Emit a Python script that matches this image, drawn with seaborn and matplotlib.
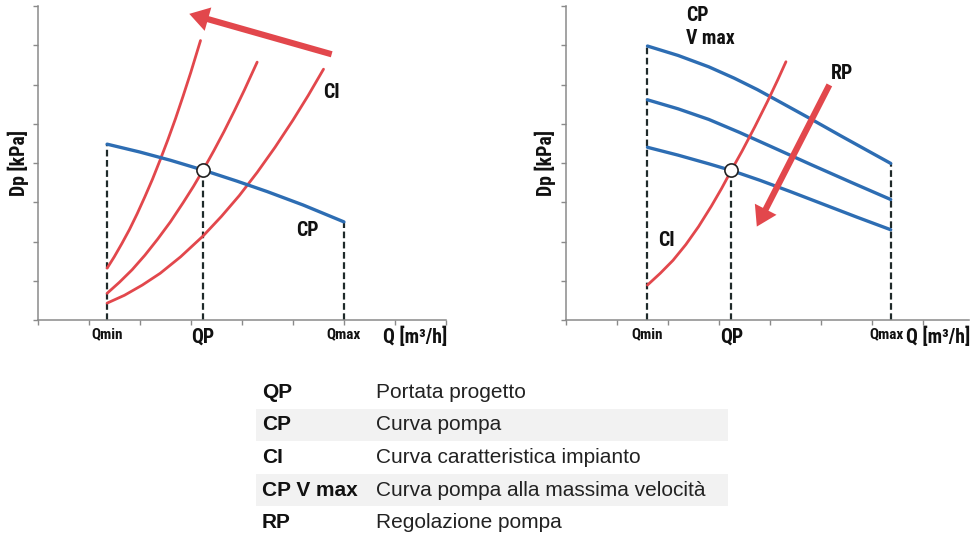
import matplotlib
matplotlib.use("Agg")
import matplotlib.pyplot as plt
import seaborn as sns
from matplotlib import font_manager
from matplotlib.patches import Rectangle

# ---------------- data (Q in flow units, Dp in pressure units) ----------------
# Left panel: one pump curve and three system curves
cp_q = [1.36, 2.00, 2.60, 3.24, 3.90, 4.50, 5.20, 6.00]
cp_dp = [4.48, 4.28, 4.07, 3.82, 3.54, 3.27, 2.93, 2.50]
ci_steep_q = [1.36, 1.50, 1.65, 1.80, 1.95, 2.10, 2.25, 2.40, 2.55, 2.70, 2.85, 3.00, 3.19]
ci_steep_dp = [1.32, 1.61, 1.95, 2.31, 2.71, 3.14, 3.59, 4.08, 4.59, 5.13, 5.71, 6.31, 7.12]
ci_mid_q = [1.36, 1.60, 1.85, 2.10, 2.35, 2.60, 2.85, 3.05, 3.24, 3.45, 3.65, 3.85, 4.05, 4.30]
ci_mid_dp = [0.68, 0.96, 1.28, 1.65, 2.06, 2.50, 2.99, 3.40, 3.82, 4.31, 4.80, 5.32, 5.86, 6.57]
ci_flat_q = [1.36, 1.70, 2.05, 2.40, 2.80, 3.24, 3.60, 3.95, 4.30, 4.65, 5.00, 5.30, 5.60]
ci_flat_dp = [0.43, 0.63, 0.89, 1.19, 1.61, 2.14, 2.64, 3.17, 3.76, 4.40, 5.09, 5.72, 6.39]
qp_left = (3.24, 3.82)

# Right panel: pump curves at three speeds and one system curve
cp_vmax_q = [1.60, 2.20, 2.80, 3.30, 3.75, 4.20, 4.80, 5.40, 6.36]
cp_vmax_dp = [6.98, 6.74, 6.45, 6.16, 5.87, 5.55, 5.12, 4.68, 3.99]
cp_med_q = [1.60, 2.20, 2.80, 3.40, 4.00, 4.80, 5.60, 6.36]
cp_med_dp = [5.61, 5.38, 5.11, 4.78, 4.43, 3.96, 3.50, 3.07]
cp_low_q = [1.60, 2.20, 2.80, 3.24, 3.80, 4.40, 5.00, 5.70, 6.36]
cp_low_dp = [4.40, 4.20, 3.98, 3.81, 3.56, 3.27, 2.97, 2.62, 2.30]
ci_q = [1.60, 1.85, 2.10, 2.35, 2.60, 2.85, 3.05, 3.24, 3.45, 3.70, 3.95, 4.15, 4.31]
ci_dp = [0.89, 1.19, 1.52, 1.92, 2.38, 2.90, 3.35, 3.81, 4.30, 4.92, 5.57, 6.12, 6.58]
qp_right = (3.24, 3.81)

# Legend table
legend_codes = ["QP", "CP", "CI", "CP V max", "RP"]
legend_desc = ["Portata progetto", "Curva pompa", "Curva caratteristica impianto",
               "Curva pompa alla massima velocità", "Regolazione pompa"]

# ---------------- style ----------------
sns.set_theme(style="white")
plt.rcParams["font.family"] = ["Liberation Sans", "DejaVu Sans"]


def pick_condensed():
    """Narrow bold face for the chart annotations, with sensible fallbacks."""
    entries = font_manager.fontManager.ttflist
    names = {f.name for f in entries}
    for fam in ["Roboto Condensed", "Liberation Sans Narrow", "Noto Sans Condensed",
                "Open Sans Condensed", "DejaVu Sans Condensed", "Arial Narrow"]:
        if fam in names:
            return dict(fontfamily=[fam, "DejaVu Sans"])
    for f in entries:
        if str(f.stretch) in ("condensed", "semi-condensed", "extra-condensed") and \
                f.name in ("DejaVu Sans", "Noto Sans", "Open Sans", "Roboto", "Liberation Sans"):
            return dict(fontfamily=[f.name, "DejaVu Sans"], fontstretch=f.stretch)
    return dict(fontfamily=["Liberation Sans", "DejaVu Sans"])


COND = pick_condensed()
RED = "#e2474c"
BLUE = "#2d6db3"
DASH = "#1f2a2a"
AXIS = "#8a8a8a"
BIG = 14.2
SMALL = 11

W, H = 971, 535
fig = plt.figure(figsize=(W / 100, H / 100), dpi=100)
fig.patch.set_facecolor("white")


def box(x0, y0, x1, y1):
    return [x0 / W, 1 - y1 / H, (x1 - x0) / W, (y1 - y0) / H]


axL = fig.add_axes(box(37.7, 6, 446, 320))
axR = fig.add_axes(box(565.7, 6, 565.7 + 7.9 * 51.1, 320))


def frame(ax, xmax):
    ax.set_xlim(0, xmax)
    ax.set_ylim(0, 8)
    ax.set_xticks(range(0, int(xmax) + 1))
    ax.set_yticks(range(0, 9))
    sns.despine(ax=ax)
    for s in ("left", "bottom"):
        ax.spines[s].set_color(AXIS)
        ax.spines[s].set_linewidth(1.1)
    ax.tick_params(direction="out", length=3.5, width=1, color=AXIS,
                   labelbottom=False, labelleft=False, bottom=True, left=True)
    ax.set_xlabel("")
    ax.set_ylabel("")
    ax.set_facecolor("none")


def curve(ax, q, dp, color, lw):
    sns.lineplot(x=q, y=dp, ax=ax, color=color, linewidth=lw, sort=False,
                 estimator=None, clip_on=False, zorder=3)


def drop(ax, q, top):
    ax.vlines(q, 0, top, colors=DASH, linewidth=1.6,
              linestyles=(0, (3, 1.6)), zorder=2)


def op_point(ax, pt):
    ax.scatter([pt[0]], [pt[1]], s=90, facecolor="white", edgecolor="#222222",
               linewidth=1.2, zorder=6, clip_on=False)


def arrow(ax, tail, tip):
    ax.annotate("", xy=tip, xytext=tail,
                arrowprops=dict(arrowstyle="simple,head_length=1.0,head_width=1.25,tail_width=0.32",
                                mutation_scale=14, color=RED, shrinkA=0, shrinkB=0, lw=0),
                zorder=5, annotation_clip=False)


lbl = dict(fontweight="bold", color="#111111", ha="center", va="center", **COND)

# ---------------- left panel ----------------
frame(axL, 8)
drop(axL, cp_q[0], cp_dp[0])
drop(axL, qp_left[0], qp_left[1])
drop(axL, cp_q[-1], cp_dp[-1])
curve(axL, ci_steep_q, ci_steep_dp, RED, 2.0)
curve(axL, ci_mid_q, ci_mid_dp, RED, 2.0)
curve(axL, ci_flat_q, ci_flat_dp, RED, 2.0)
curve(axL, cp_q, cp_dp, BLUE, 2.4)
op_point(axL, qp_left)
arrow(axL, (5.76, 6.77), (2.97, 7.80))
axL.text(5.76, 5.79, "CI", fontsize=BIG, **lbl)
axL.text(5.28, 2.29, "CP", fontsize=BIG, **lbl)
axL.text(cp_q[0], -0.36, "Qmin", fontsize=SMALL, **lbl)
axL.text(qp_left[0], -0.44, "QP", fontsize=BIG, **lbl)
axL.text(cp_q[-1], -0.36, "Qmax", fontsize=SMALL, **lbl)
axL.text(7.39, -0.44, "Q [m³/h]", fontsize=BIG, **lbl)

# ---------------- right panel ----------------
frame(axR, 7.9)
drop(axR, cp_vmax_q[0], cp_vmax_dp[0])
drop(axR, qp_right[0], qp_right[1])
drop(axR, cp_vmax_q[-1], cp_vmax_dp[-1])
curve(axR, cp_vmax_q, cp_vmax_dp, BLUE, 2.4)
curve(axR, cp_med_q, cp_med_dp, BLUE, 2.4)
curve(axR, cp_low_q, cp_low_dp, BLUE, 2.4)
curve(axR, ci_q, ci_dp, RED, 2.0)
op_point(axR, qp_right)
arrow(axR, (5.16, 5.99), (3.74, 2.38))
axR.text(2.35, 7.75, "CP", fontsize=BIG, **{**lbl, "ha": "left"})
axR.text(2.35, 7.18, "V max", fontsize=BIG, **{**lbl, "ha": "left"})
axR.text(5.40, 6.27, "RP", fontsize=BIG, **lbl)
axR.text(1.98, 2.02, "CI", fontsize=BIG, **lbl)
axR.text(cp_vmax_q[0], -0.36, "Qmin", fontsize=SMALL, **lbl)
axR.text(qp_right[0], -0.44, "QP", fontsize=BIG, **lbl)
axR.text(6.28, -0.36, "Qmax", fontsize=SMALL, **lbl)
fig.text(970 / W, 1 - 337 / H, "Q [m³/h]", fontsize=BIG, **{**lbl, "ha": "right"})

# axis titles
for xpx in (18, 545):
    fig.text(xpx / W, 1 - 163 / H, "Dp [kPa]", rotation=90, fontsize=BIG, **lbl)

# ---------------- legend table ----------------
row_base = [398, 430.5, 463, 495.5, 528]
for i, (code, desc) in enumerate(zip(legend_codes, legend_desc)):
    if i % 2 == 1:
        fig.add_artist(Rectangle((256 / W, 1 - (row_base[i] + 10) / H), (728 - 256) / W, 32 / H,
                                 transform=fig.transFigure, facecolor="#f2f2f2",
                                 edgecolor="none", zorder=0))
    fig.text(262 / W, 1 - row_base[i] / H, code, fontsize=15, fontweight="bold",
             fontfamily=["Liberation Sans", "DejaVu Sans"], color="#111111", va="baseline")
    fig.text(376 / W, 1 - row_base[i] / H, desc, fontsize=15,
             fontfamily=["Liberation Sans", "DejaVu Sans"], color="#222222", va="baseline")

fig.savefig("out.png", dpi=100, facecolor="white")
